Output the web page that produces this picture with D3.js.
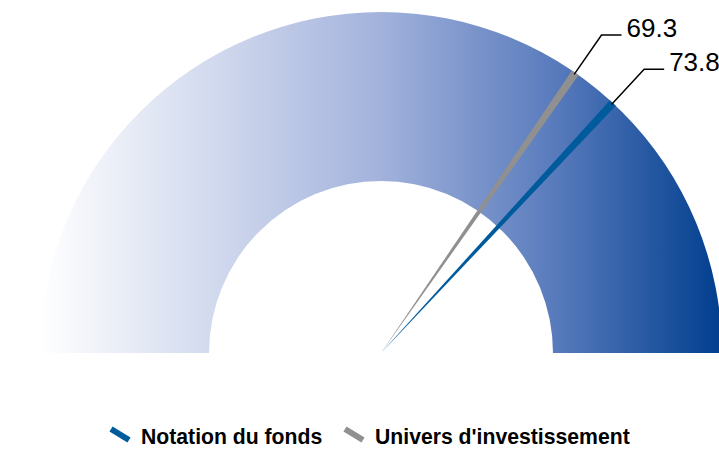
<!DOCTYPE html>
<html>
<head>
<meta charset="utf-8">
<style>
  body { margin: 0; background: #fff; }
  svg { display: block; font-family: "Liberation Sans", Arial, sans-serif; }
</style>
</head>
<body>
<svg width="719" height="449"></svg>
<script src="https://cdn.jsdelivr.net/npm/d3@7"></script>
<script>
var seriesNames = ["Notation du fonds", "Univers d'investissement"];
var seriesValues = [73.8, 69.3];
var seriesColors = ["#005b9d", "#909090"];
var domainRange = [0, 100];

var svg = d3.select("svg"),
    cx = 381, cy = 353,
    outerR = 341, innerR = 172;

// value -> angle (radians, clockwise from 12 o'clock like d3.arc)
var angle = d3.scaleLinear().domain(domainRange).range([-Math.PI / 2, Math.PI / 2]);

var defs = svg.append("defs");
var grad = defs.append("linearGradient")
    .attr("id", "gaugeGrad")
    .attr("gradientUnits", "userSpaceOnUse")
    .attr("x1", -outerR).attr("x2", outerR)
    .attr("y1", 0).attr("y2", 0);
[[0, "#ffffff"], [0.25, "#d2daee"], [0.5, "#a2b2dc"], [0.75, "#5a7cbd"], [1, "#003e8e"]]
  .forEach(function (s) { grad.append("stop").attr("offset", s[0]).attr("stop-color", s[1]); });

var g = svg.append("g").attr("transform", "translate(" + cx + "," + cy + ")");

var arc = d3.arc().innerRadius(innerR).outerRadius(outerR)
    .startAngle(angle(domainRange[0])).endAngle(angle(domainRange[1]));
g.append("path").attr("d", arc()).attr("fill", "url(#gaugeGrad)");

function pt(a, r) { return [Math.sin(a) * r, -Math.cos(a) * r]; }

var halfW = 0.0118;
var needles = seriesValues.map(function (v, i) { return {v: v, color: seriesColors[i]}; })
  .sort(function (a, b) { return a.v - b.v; });

g.selectAll(".needle").data(needles).enter().append("path")
    .attr("class", "needle")
    .attr("fill", function (d) { return d.color; })
    .attr("d", function (d) {
      var a = angle(d.v);
      return d3.line()([[0, 0], pt(a - halfW, outerR), pt(a + halfW, outerR)]) + "Z";
    });

// leader lines and labels
var lbl = g.selectAll(".lbl").data(needles).enter().append("g").attr("class", "lbl");
lbl.append("path")
    .attr("fill", "none").attr("stroke", "#000").attr("stroke-width", 1.5)
    .attr("d", function (d) {
      var a = angle(d.v), p0 = pt(a, outerR - 2), p1 = pt(a, outerR + 46);
      return d3.line()([p0, p1, [p1[0] + 20, p1[1]]]);
    });
lbl.append("text")
    .attr("x", function (d) { return pt(angle(d.v), outerR + 46)[0] + 25; })
    .attr("y", function (d) { return pt(angle(d.v), outerR + 46)[1] + 2; })
    .attr("font-size", 26).attr("fill", "#000")
    .text(function (d) { return d3.format(".1f")(d.v); });

// legend
var legend = svg.append("g").attr("transform", "translate(110,444)");
var offsets = [0, 234];
seriesNames.forEach(function (name, i) {
  var lg = legend.append("g").attr("transform", "translate(" + offsets[i] + ",0)");
  lg.append("line").attr("x1", 1).attr("y1", -15).attr("x2", 19).attr("y2", -4)
    .attr("stroke", seriesColors[i]).attr("stroke-width", 6);
  lg.append("text").attr("x", 31).attr("y", 0)
    .attr("font-size", 21.2).attr("font-weight", "bold").attr("fill", "#000")
    .text(name);
});
</script>
</body>
</html>
